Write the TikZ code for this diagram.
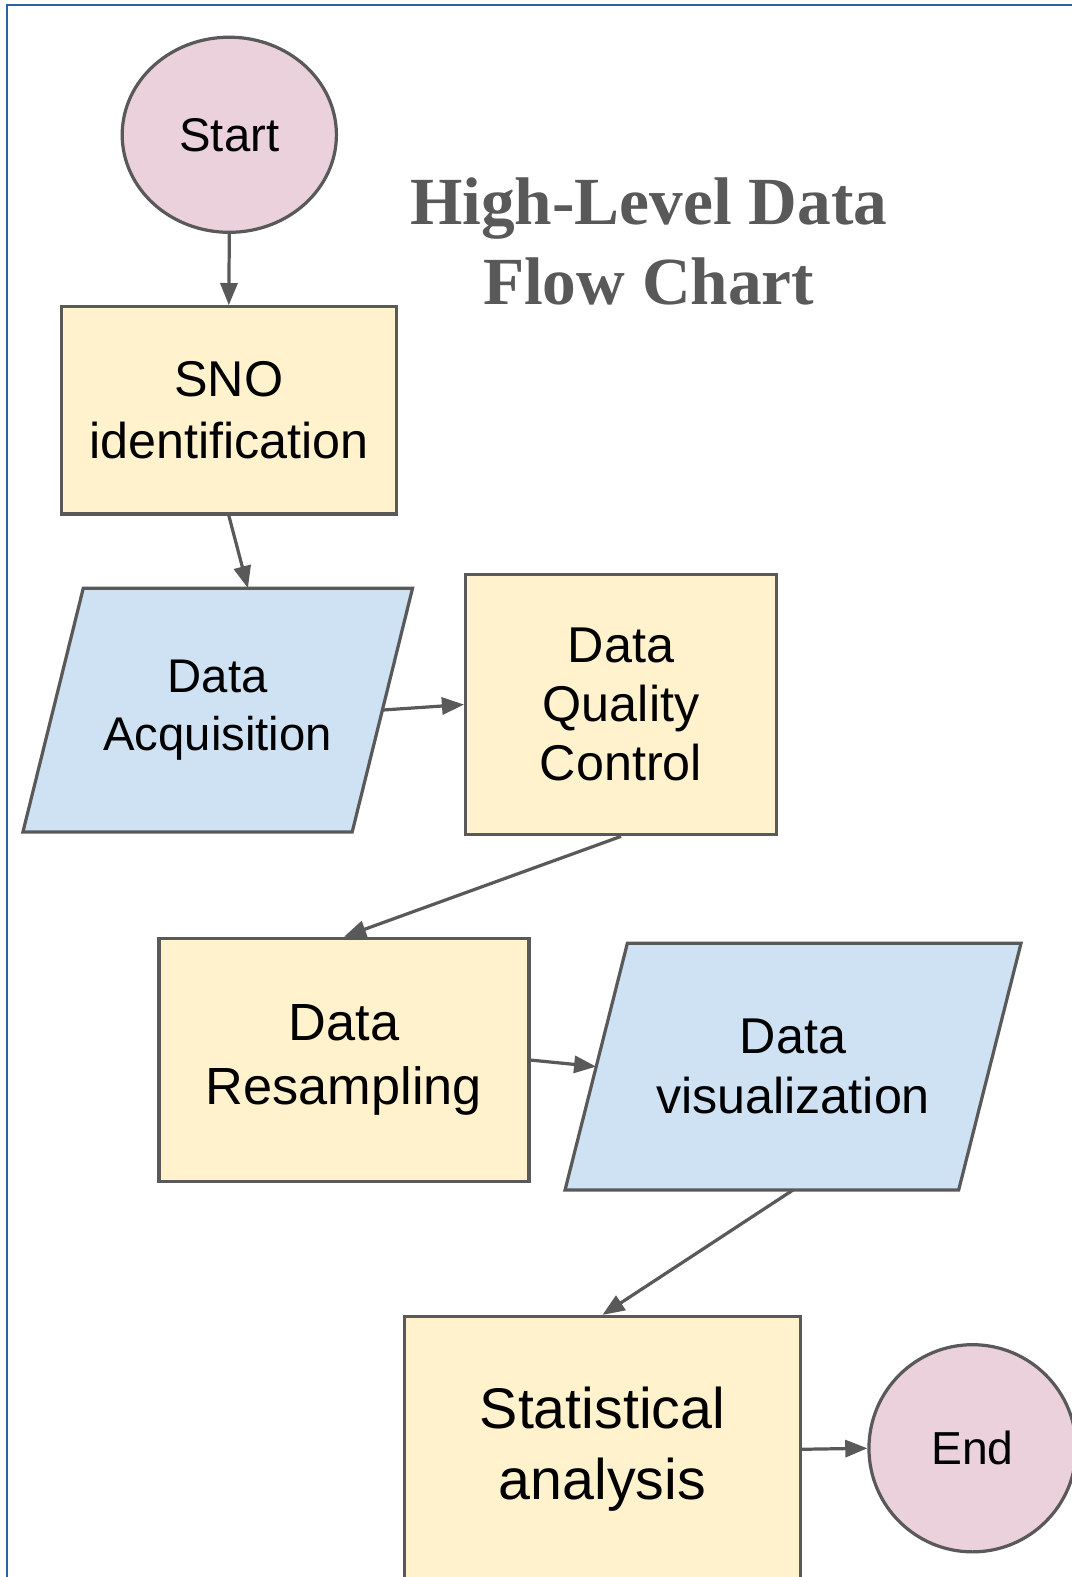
\documentclass[tikz,border=0pt]{standalone}
\usepackage{fontspec}
\setmainfont{Liberation Sans}
\newfontfamily\titlefont{Liberation Serif}
\usetikzlibrary{shapes.geometric, arrows.meta, positioning, calc, backgrounds}
\definecolor{framegray}{HTML}{595959}
\definecolor{startpink}{HTML}{EAD1DC}
\definecolor{procyellow}{HTML}{FFF2CC}
\definecolor{iobl}{HTML}{CFE2F3}
\definecolor{borderblue}{HTML}{2A62A6}

\begin{document}
\begin{tikzpicture}[x=1pt, y=-1pt]
        \tikzstyle{terminal} = [ellipse, draw=framegray, line width=3.2pt, fill=startpink, inner sep=0pt]
        \tikzstyle{process} = [rectangle, draw=framegray, line width=3.2pt, fill=procyellow, align=center, inner sep=0pt]
        \tikzstyle{io} = [rectangle, align=center, inner sep=0pt]
        \tikzstyle{ioshape} = [draw=framegray, line width=3.2pt, fill=iobl, line join=miter]
        \tikzstyle{connector} = [-{Triangle[length=22pt,width=17pt]}, line width=3.2pt, draw=framegray]

        \useasboundingbox (0,0) rectangle (1065,1568);
        \draw[borderblue, line width=2.2pt] (7,1600) -- (7,5) -- (1100,5);

        \node[terminal, minimum width=213, minimum height=194, font=\fontsize{47}{56}\selectfont] (start) at (228,134) {Start};

        \node[font=\titlefont\bfseries\fontsize{67}{79}\selectfont, text=framegray, align=center] (title) at (645,240) {High-Level Data\\Flow Chart};

        \node[process, minimum width=333, minimum height=206, font=\fontsize{50}{61}\selectfont] (sno) at (227.5,408) {SNO\\identification};

        \node[io, minimum width=387, minimum height=242, font=\fontsize{47}{57}\selectfont] (acq) at (216.5,706) {Data\\Acquisition};

        \node[process, minimum width=309, minimum height=259, font=\fontsize{50}{59}\selectfont] (dqc) at (617.5,700.5) {Data\\Quality\\Control};

        \node[process, minimum width=368, minimum height=242, font=\fontsize{52}{64}\selectfont] (res) at (342,1054) {Data\\Resampling};

        \node[io, minimum width=453, minimum height=245, font=\fontsize{50}{60}\selectfont] (vis) at (788.5,1060.5) {Data\\visualization};

        \node[process, minimum width=394, minimum height=264, font=\fontsize{57}{70}\selectfont] (stat) at (599,1441) {Statistical\\analysis};

        \node[terminal, circle, minimum size=206, font=\fontsize{46}{55}\selectfont] (fin) at (967,1440) {End};

        % slanted input/output boxes
        \begin{scope}[on background layer]
            \draw[ioshape] ($(acq.north west)+(60,0)$) -- (acq.north east) -- ($(acq.south east)+(-60,0)$) -- (acq.south west) -- cycle;
            \draw[ioshape] ($(vis.north west)+(62,0)$) -- (vis.north east) -- ($(vis.south east)+(-62,0)$) -- (vis.south west) -- cycle;
        \end{scope}

        % connectors
        \draw[connector] (start.south) -- (sno.north);
        \draw[connector] (sno.south) -- ($(acq.north)+(30,0)$);
        \draw[connector] ($(acq.east)+(-30,0)$) -- (dqc.west);
        \draw[connector] (dqc.south) -- (res.north);
        \draw[connector] (res.east) -- ($(vis.west)+(31,0)$);
        \draw[connector] (vis.south) -- (stat.north);
        \draw[connector] (stat.east) -- (fin.west);

\end{tikzpicture}
\end{document}
